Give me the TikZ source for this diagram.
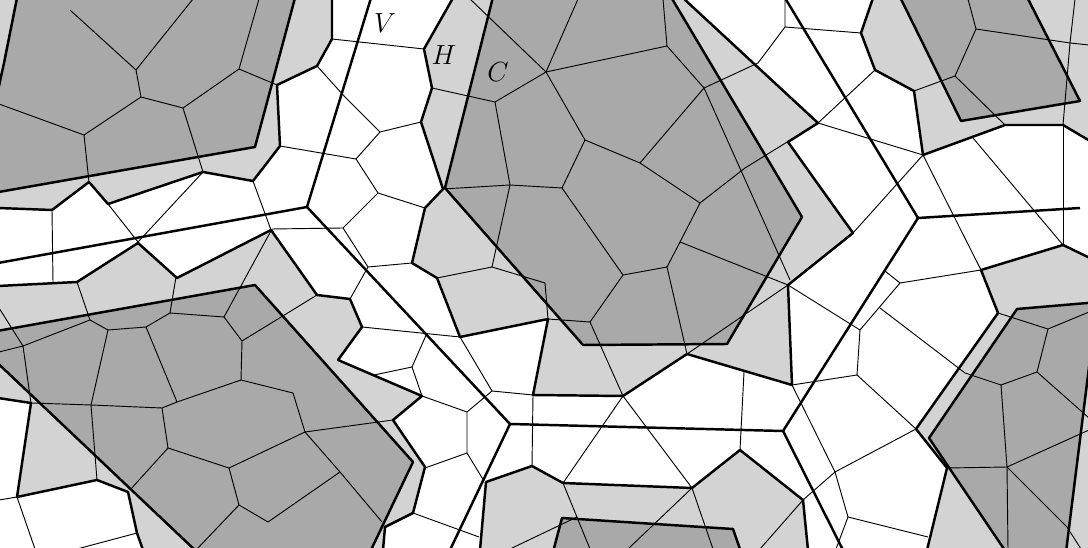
\documentclass[tikz,border=0pt]{standalone}
\usepackage{tikz}
\definecolor{lg}{HTML}{D3D3D3}
\definecolor{dg}{HTML}{A9A9A9}
\begin{document}
\begin{tikzpicture}[x=0.75pt,y=-0.75pt,line join=round,
  thinl/.style={line width=0.7pt},
  thickl/.style={line width=1.85pt},
  light/.style={fill=lg},
  dark/.style={fill=dg},
  lab/.style={font=\fontsize{20}{24}\selectfont}]
\useasboundingbox (0,0) rectangle (1088,548);
\clip (0,0) rectangle (1088,548);
\fill[white] (0,0) rectangle (1088,548);
% light gray regions
\fill[light] (-2,-2) -- (332,-2) -- (332,39) -- (317,66) -- (277,85) -- (280,146) -- (253,181) -- (203,172) -- (108,204) -- (89,182) -- (52,210) -- (-2,208) -- cycle;
\fill[light] (-2,286) -- (77,282) -- (138,243) -- (177,278) -- (271,230) -- (317,295) -- (350,299) -- (362,327) -- (338,360) -- (422,396) -- (393,420) -- (425,467) -- (413,513) -- (385,527) -- (383,550) -- (143,550) -- (137,533) -- (128,492) -- (97,480) -- (17,497) -- (31,403) -- (-2,398) -- cycle;
\fill[light] (453,-2) -- (424,49) -- (432,88) -- (421,122) -- (443,189) -- (425,208) -- (412,263) -- (437,278) -- (460,337) -- (548,319) -- (533,395) -- (623,396) -- (687,354) -- (792,385) -- (788,285) -- (853,233) -- (820,187) -- (788,142) -- (818,123) -- (683,-2) -- cycle;
\fill[light] (873,-2) -- (1090,-2) -- (1090,141) -- (1063,125) -- (1005,125) -- (923,155) -- (914,91) -- (875,70) -- (861,33) -- cycle;
\fill[light] (981,270) -- (1063,245) -- (1090,258) -- (1090,550) -- (927,550) -- (947,468) -- (916,429) -- (998,313) -- cycle;
\fill[light] (480,550) -- (486,482) -- (532,466) -- (563,483) -- (692,488) -- (740,450) -- (803,500) -- (808,550) -- cycle;
% dark polygons
\path[dark] (17,-2) -- (4,63) -- (-3,95) -- (-3,192.3) -- (255,147) -- (295,-2) -- cycle;
\path[dark] (-3,362.5) -- (-3,331) -- (255,285) -- (413,462) -- (370,552) -- (197,552) -- cycle;
\path[dark] (493,-3) -- (445,188) -- (583,345) -- (727,344) -- (802,217) -- (671,-3) -- cycle;
\path[dark] (900,-3) -- (961,121) -- (1080,101) -- (1027,-3) -- cycle;
\path[dark] (1017,309) -- (1092,302.6) -- (1092,343) -- (1066,552) -- (1006,552) -- (929,438) -- cycle;
\path[dark] (562,518) -- (733,529) -- (741,552) -- (553,552) -- cycle;
% thin lines
\begin{scope}[thinl]
\draw (70,10) -- (136,70) -- (141,97) -- (84,135) -- (89,182) -- (108,204) -- (138,242);
\draw (193,-1) -- (136,70);
\draw (-1,104) -- (84,135);
\draw (141,97) -- (183,108) -- (239,69) -- (259,-1);
\draw (239,69) -- (277,85);
\draw (183,108) -- (203,172) -- (138,242);
\draw (253,181) -- (271,230);
\draw (52,210) -- (53,282);
\draw (332,39) -- (424,49);
\draw (317,66) -- (345,97) -- (380,132) -- (421,122);
\draw (380,132) -- (356,159) -- (280,146);
\draw (356,159) -- (378,193) -- (425,208);
\draw (378,193) -- (343,228) -- (272,229);
\draw (343,228) -- (368,267) -- (350,299);
\draw (368,267) -- (412,263);
\draw (432,88) -- (495,102) -- (546,72) -- (470,-1);
\draw (546,72) -- (578,-1);
\draw (546,72) -- (667,46) -- (663,-1);
\draw (667,46) -- (704,88) -- (640,163);
\draw (704,88) -- (758,63) -- (785,27) -- (785,-1);
\draw (785,27) -- (861,33);
\draw (546,72) -- (585,140) -- (562,188);
\draw (585,140) -- (640,163) -- (700,203) -- (745,168) -- (818,123);
\draw (704,88) -- (790,280);
\draw (495,102) -- (510,185) -- (492,267) -- (437,278);
\draw (443,189) -- (510,185) -- (562,188) -- (623,275) -- (667,267) -- (680,242) -- (700,203);
\draw (680,242) -- (788,285);
\draw (667,267) -- (687,354);
\draw (548,319) -- (590,322) -- (623,275);
\draw (590,322) -- (623,396);
\draw (492,267) -- (545,283) -- (548,319);
\draw (362,327) -- (460,337);
\draw (427,333) -- (412,367) -- (374,375);
\draw (412,367) -- (422,396) -- (467,412) -- (492,391) -- (533,395);
\draw (492,391) -- (460,337);
\draw (467,412) -- (467,453) -- (425,468);
\draw (467,453) -- (484,481);
\draw (413,513) -- (479,537);
\draw (-1,352) -- (23,346) -- (90,320) -- (77,282);
\draw (-1,308) -- (23,346) -- (31,403) -- (91,405) -- (162,408) -- (177,402) -- (241,380);
\draw (90,320) -- (108,330) -- (146,327) -- (170,313) -- (176,277);
\draw (170,313) -- (224,317) -- (272,229);
\draw (224,317) -- (242,341) -- (317,295);
\draw (242,341) -- (241,380) -- (293,393) -- (305,432) -- (393,420);
\draw (146,327) -- (177,402);
\draw (108,330) -- (91,405) -- (97,480);
\draw (162,408) -- (168,448) -- (229,468) -- (305,432);
\draw (168,448) -- (130,490);
\draw (229,468) -- (239,505) -- (197,549);
\draw (239,505) -- (268,522) -- (340,472) -- (305,432);
\draw (340,472) -- (382,522);
\draw (-1,500) -- (17,497) -- (35,549);
\draw (137,533) -- (77,549);
\draw (533,395) -- (532,466);
\draw (563,483) -- (623,396) -- (692,488);
\draw (563,483) -- (590,549);
\draw (577,517) -- (510,549);
\draw (692,488) -- (713,549);
\draw (692,488) -- (628,549);
\draw (803,500) -- (760,549);
\draw (744,372) -- (740,450);
\draw (687,354) -- (788,285);
\draw (792,385) -- (857,375) -- (860,330) -- (788,285);
\draw (860,330) -- (900,283) -- (885,271);
\draw (900,283) -- (981,270);
\draw (923,155) -- (981,270);
\draw (857,375) -- (916,429) -- (835,472);
\draw (792,385) -- (835,472) -- (803,500);
\draw (835,472) -- (848,517) -- (928,537);
\draw (848,517) -- (836,549);
\draw (880,308) -- (965,373) -- (1001,385);
\draw (818,123) -- (875,70);
\draw (818,123) -- (923,155) -- (853,233);
\draw (973,138) -- (1063,245);
\draw (1063,125) -- (1063,245);
\draw (968,-1) -- (976,29) -- (955,76) -- (914,91);
\draw (955,76) -- (1005,125);
\draw (976,29) -- (1070,43) -- (1089,45);
\draw (1070,43) -- (1075,-1);
\draw (1070,43) -- (1063,125);
\draw (1001,385) -- (1037,372) -- (1048,329);
\draw (1037,372) -- (1089,418);
\draw (1001,385) -- (1007,467) -- (1008,549);
\draw (947,468) -- (1007,467) -- (1089,430);
\draw (1007,467) -- (1067,527) -- (1081,549);
\draw (998,313) -- (1048,329) -- (1089,312);
\end{scope}
% thick lines: region boundaries
\begin{scope}[thickl]
\draw (-2,208) -- (52,210) -- (89,182) -- (108,204) -- (203,172) -- (253,181) -- (280,146) -- (277,85) -- (317,66) -- (332,39) -- (332,-2);
\draw (-2,286) -- (77,282) -- (138,243) -- (177,278) -- (271,230) -- (317,295) -- (350,299) -- (362,327) -- (338,360) -- (422,396) -- (393,420) -- (425,467) -- (413,513) -- (385,527) -- (383,550);
\draw (-2,398) -- (31,403) -- (17,497) -- (97,480) -- (128,492) -- (137,533) -- (143,550);
\draw (453,-2) -- (424,49) -- (432,88) -- (421,122) -- (443,189) -- (425,208) -- (412,263) -- (437,278) -- (460,337) -- (548,319) -- (533,395) -- (623,396) -- (687,354) -- (792,385) -- (788,285) -- (853,233) -- (820,187) -- (788,142) -- (818,123) -- (683,-2);
\draw (873,-2) -- (861,33) -- (875,70) -- (914,91) -- (923,155) -- (1005,125) -- (1063,125) -- (1090,141);
\draw (1090,258) -- (1063,245) -- (981,270) -- (998,313) -- (916,429) -- (947,468) -- (927,550);
\draw (480,550) -- (486,482) -- (532,466) -- (563,483) -- (692,488) -- (740,450) -- (803,500) -- (808,550);
% dark polygon outlines
\draw (17,-2) -- (4,63) -- (-3,95);
\draw (-3,192.3) -- (255,147) -- (295,-2);
\draw (-3,362.5) -- (197,552);
\draw (-3,331) -- (255,285) -- (413,462) -- (370,552);
\draw (493,-3) -- (445,188) -- (583,345) -- (727,344) -- (802,217) -- (671,-3);
\draw (900,-3) -- (961,121) -- (1080,101) -- (1027,-3);
\draw (1092,302.6) -- (1017,309) -- (929,438) -- (1006,552);
\draw (1092,343) -- (1066,552);
\draw (553,552) -- (562,518) -- (733,529) -- (741,552);
% long straight lines
\draw (-2,263) -- (307,207);
\draw (371,-2) -- (307,207) -- (510,424) -- (783,431) -- (918,218) -- (1080,208);
\draw (918,218) -- (785,-2);
\draw (510,424) -- (450,550);
\draw (783,431) -- (843,550);
\end{scope}
% labels
\node[lab] (labV) at (385,23) {$V$};
\node[lab] (labH) at (444,55) {$H$};
\node[lab] (labC) at (498,72) {$C$};
\end{tikzpicture}
\end{document}
